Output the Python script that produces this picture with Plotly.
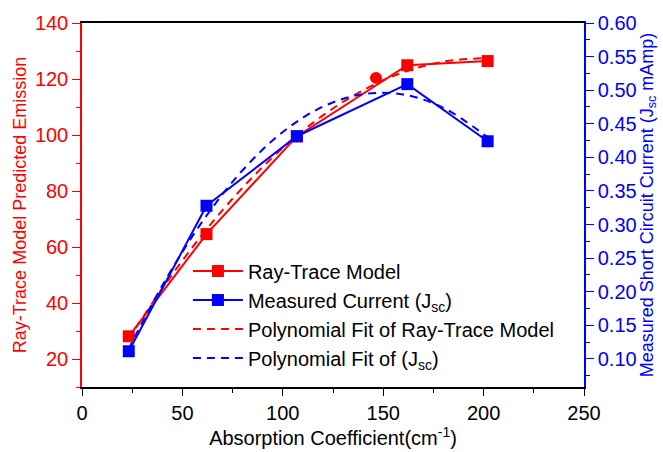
import plotly.graph_objects as go

# Data
x_model = [23.3, 62, 107, 162, 202]
y_model = [28.1, 64.6, 99.5, 124.9, 126.4]

x_current = [23.3, 62, 107, 162, 202]
y_current = [0.1115, 0.328, 0.4315, 0.509, 0.424]

x_extra = [146.4]
y_extra = [120.4]

x_fit = [23, 40, 60, 80, 100, 120, 140, 160, 180, 202]
y_fit_model = [26.8, 45.2, 64.5, 81.2, 95.4, 107.0, 116.0, 122.4, 126.2, 127.5]
y_fit_current = [0.1135, 0.2095, 0.3048, 0.3809, 0.4378, 0.4755, 0.4941, 0.4935, 0.4738, 0.4299]

x_ticks = [0, 50, 100, 150, 200, 250]
y_ticks = [20, 40, 60, 80, 100, 120, 140]
y2_ticks = [0.10, 0.15, 0.20, 0.25, 0.30, 0.35, 0.40, 0.45, 0.50, 0.55, 0.60]

RED = "#ff0000"
BLUE = "#0000ff"
FONT = "Liberation Sans, Arial, sans-serif"

fig = go.Figure()
fig.add_trace(go.Scatter(
    x=x_model, y=y_model, name="Ray-Trace Model", mode="lines+markers",
    line=dict(color=RED, width=2), marker=dict(symbol="square", size=12, color=RED),
    yaxis="y"))
fig.add_trace(go.Scatter(
    x=x_current, y=y_current, name="Measured Current (J<sub>sc</sub>)", mode="lines+markers",
    line=dict(color=BLUE, width=2), marker=dict(symbol="square", size=12, color=BLUE),
    yaxis="y2"))
fig.add_trace(go.Scatter(
    x=x_fit, y=y_fit_model, name="Polynomial Fit of Ray-Trace Model", mode="lines",
    line=dict(color=RED, width=2, dash="8px,6px", shape="spline"), yaxis="y"))
fig.add_trace(go.Scatter(
    x=x_fit, y=y_fit_current, name="Polynomial Fit of (J<sub>sc</sub>)", mode="lines",
    line=dict(color=BLUE, width=2, dash="8px,6px", shape="spline"), yaxis="y2"))
fig.add_trace(go.Scatter(
    x=x_extra, y=y_extra, mode="markers", showlegend=False,
    marker=dict(symbol="circle", size=12, color=RED), yaxis="y"))

fig.update_layout(
    width=663, height=452,
    margin=dict(l=82, r=77, t=22, b=54),
    paper_bgcolor="white", plot_bgcolor="white",
    font=dict(family=FONT, size=20, color="black"),
    showlegend=True,
    legend=dict(x=0.211, y=0.372, xanchor="left", yanchor="top",
                bgcolor="rgba(0,0,0,0)", font=dict(size=20, color="black"),
                itemwidth=50, tracegroupgap=0),
    xaxis=dict(
        range=[0, 250], tickvals=x_ticks, ticks="outside", ticklen=7, tickwidth=1,
        tickcolor="black", showline=True, linecolor="black", linewidth=1.5,
        mirror=True, showgrid=False, zeroline=False,
        tickfont=dict(size=20, color="black"),
        minor=dict(dtick=25, ticks="outside", ticklen=4, tickcolor="black"),
        title=dict(text="Absorption Coefficient(cm<sup>-1</sup>)",
                   font=dict(size=20, color="black"), standoff=2),
    ),
    yaxis=dict(
        range=[10, 140], tickvals=y_ticks, ticks="outside", ticklen=8, tickwidth=1,
        tickcolor=RED, showline=True, linecolor=RED, linewidth=1.5,
        showgrid=False, zeroline=False, tickfont=dict(size=20, color=RED),
        minor=dict(dtick=10, ticks="outside", ticklen=4, tickcolor=RED),
        title=dict(text="Ray-Trace Model Predicted Emission",
                   font=dict(size=18, color=RED), standoff=4),
    ),
    yaxis2=dict(
        range=[0.0583, 0.6], tickvals=y2_ticks, tickformat=".2f",
        overlaying="y", side="right", anchor="x",
        ticks="outside", ticklen=8, tickwidth=1,
        tickcolor=BLUE, showline=True, linecolor=BLUE, linewidth=1.5,
        showgrid=False, zeroline=False, tickfont=dict(size=20, color=BLUE),
        minor=dict(dtick=0.025, ticks="outside", ticklen=4, tickcolor=BLUE),
        title=dict(text="Measured Short Circuit Current (J<sub>sc</sub> mAmp)",
                   font=dict(size=18, color=BLUE), standoff=2),
    ),
)

fig.write_html("out.html")
